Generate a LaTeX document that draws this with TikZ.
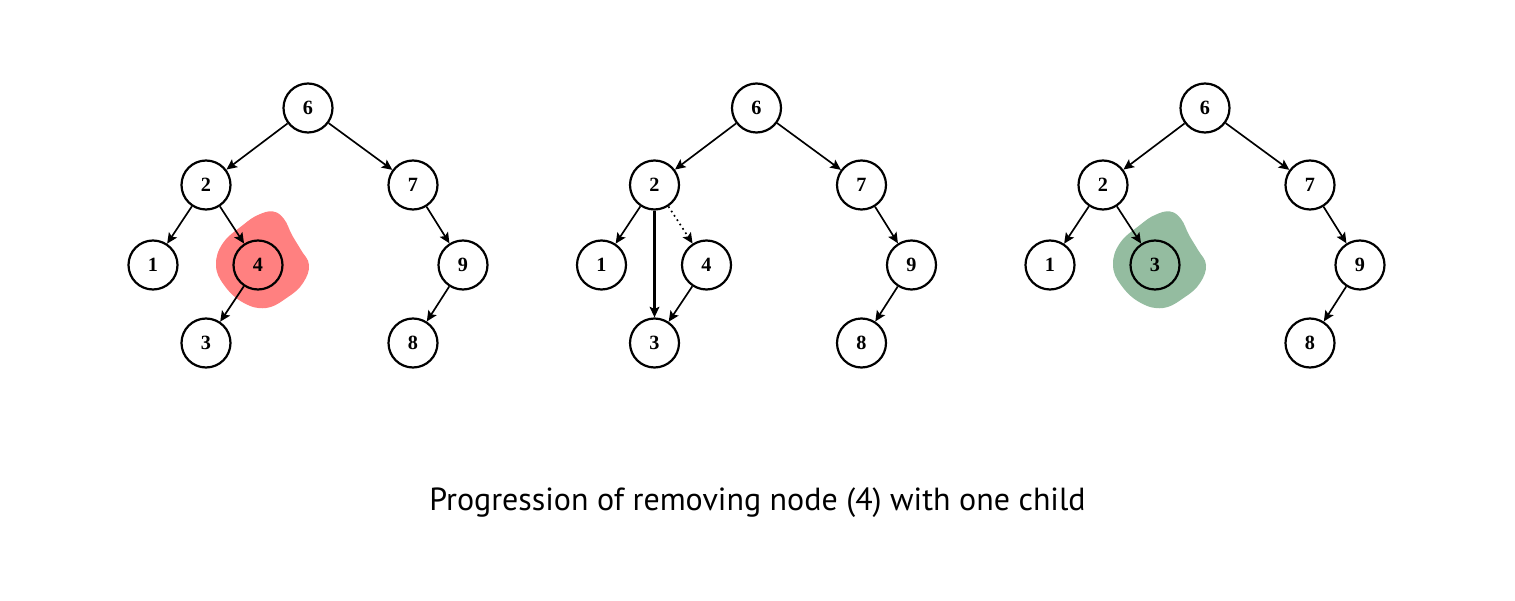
\documentclass[tikz,border=0pt]{standalone}
\usepackage{fontspec}
\newfontfamily\captionfont{PT Sans}
\newfontfamily\keyfont{Liberation Serif}
\usetikzlibrary{arrows.meta}
\definecolor{delred}{RGB}{255,128,128}
\definecolor{newgreen}{RGB}{148,188,160}
\tikzset{
  key/.style={circle,draw,line width=1.25pt,minimum size=0.98cm,inner sep=0pt,
    font=\keyfont\fontsize{11.5}{14}\selectfont\bfseries},
  edge/.style={line width=0.95pt,-{Stealth[length=6pt,width=5.5pt,inset=1.2pt]}},
}
\newcommand{\blobat}[2]{% center, colour
  \fill[#2,shift={#1}] plot[smooth cycle,tension=0.7] coordinates
    {(-0.3,0.8) (0.0,1.0) (0.3,1.07) (0.52,0.92) (0.68,0.6) (0.86,0.3)
     (1.02,0) (0.9,-0.36) (0.6,-0.64) (0.16,-0.86) (-0.3,-0.75)
     (-0.68,-0.4) (-0.84,0) (-0.7,0.44)};}
\begin{document}
\begin{tikzpicture}
  \useasboundingbox (0,0) rectangle (30.3,12);
  % first tree: 4 marked for removal
  \begin{scope}
    \blobat{(5.16,6.7)}{delred}
    \node[key] (a6) at (6.16,9.84) {6};
    \node[key] (a2) at (4.12,8.3) {2};
    \node[key] (a7) at (8.26,8.3) {7};
    \node[key] (a1) at (3.06,6.7) {1};
    \node[key] (a4) at (5.16,6.7) {4};
    \node[key] (a9) at (9.26,6.7) {9};
    \node[key] (a3) at (4.12,5.14) {3};
    \node[key] (a8) at (8.26,5.14) {8};
    \draw[edge] (a6)--(a2);
    \draw[edge] (a6)--(a7);
    \draw[edge] (a2)--(a1);
    \draw[edge] (a2)--(a4);
    \draw[edge] (a4)--(a3);
    \draw[edge] (a7)--(a9);
    \draw[edge] (a9)--(a8);
  \end{scope}
  % second tree: 2 points past 4 to 3
  \begin{scope}[xshift=8.97cm]
    \node[key] (b6) at (6.16,9.84) {6};
    \node[key] (b2) at (4.12,8.3) {2};
    \node[key] (b7) at (8.26,8.3) {7};
    \node[key] (b1) at (3.06,6.7) {1};
    \node[key] (b4) at (5.16,6.7) {4};
    \node[key] (b9) at (9.26,6.7) {9};
    \node[key] (b3) at (4.12,5.14) {3};
    \node[key] (b8) at (8.26,5.14) {8};
    \draw[edge] (b6)--(b2);
    \draw[edge] (b6)--(b7);
    \draw[edge] (b2)--(b1);
    \draw[edge,dotted] (b2)--(b4);
    \draw[edge,line width=1.2pt] (b2)--(b3);
    \draw[edge] (b4)--(b3);
    \draw[edge] (b7)--(b9);
    \draw[edge] (b9)--(b8);
  \end{scope}
  % third tree: 3 in place of 4
  \begin{scope}[xshift=17.94cm]
    \blobat{(5.16,6.7)}{newgreen}
    \node[key] (c6) at (6.16,9.84) {6};
    \node[key] (c2) at (4.12,8.3) {2};
    \node[key] (c7) at (8.26,8.3) {7};
    \node[key] (c1) at (3.06,6.7) {1};
    \node[key] (c3) at (5.16,6.7) {3};
    \node[key] (c9) at (9.26,6.7) {9};
    \node[key] (c8) at (8.26,5.14) {8};
    \draw[edge] (c6)--(c2);
    \draw[edge] (c6)--(c7);
    \draw[edge] (c2)--(c1);
    \draw[edge] (c2)--(c3);
    \draw[edge] (c7)--(c9);
    \draw[edge] (c9)--(c8);
  \end{scope}
  \node[anchor=base,font=\captionfont\fontsize{18.2}{21}\selectfont] (caption) at (15.15,1.8)
    {Progression of removing node (4) with one child};
\end{tikzpicture}
\end{document}
